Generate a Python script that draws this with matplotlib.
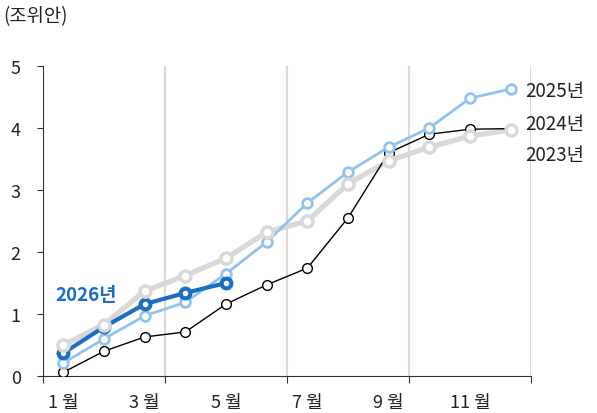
import matplotlib.pyplot as plt
import numpy as np

plt.rcParams['font.family'] = ['Noto Sans CJK KR', 'DejaVu Sans']

months = ['1 월', '2 월', '3 월', '4 월', '5 월', '6 월', '7 월', '8 월', '9 월', '10 월', '11 월', '12 월']
y2023 = [0.50, 0.83, 1.37, 1.62, 1.90, 2.32, 2.50, 3.10, 3.47, 3.69, 3.87, 3.97]
y2024 = [0.06, 0.40, 0.63, 0.71, 1.16, 1.47, 1.74, 2.55, 3.60, 3.90, 3.98, 3.99]
y2025 = [0.21, 0.60, 0.97, 1.19, 1.65, 2.16, 2.79, 3.29, 3.69, 4.00, 4.48, 4.63]
y2026 = [0.37, 0.79, 1.16, 1.34, 1.50]

fig = plt.figure(figsize=(5.97, 4.14), dpi=100)
ax = fig.add_axes([43 / 597, 1 - 377 / 414, 488 / 597, 310 / 414])

x = np.arange(12)
x26 = x[:len(y2026)]

for b in [2.5, 5.5, 8.5, 11.5]:
    ax.axvline(b, color='#d9d9d9', lw=1.5, zorder=0)

# lines first
ax.plot(x, y2023, color='#d9d9d9', lw=3.8, zorder=2)
ax.plot(x, y2024, color='black', lw=1.0, zorder=2)
ax.plot(x, y2025, color='#8fc4f2', lw=2.0, zorder=2)
ax.plot(x26, y2026, color='#1b6ec2', lw=3.0, zorder=2)

# then markers (grey ones on top)
ax.plot(x, y2024, ls='none', marker='o', ms=7, mfc='white', mec='black', mew=1.0, zorder=3)
ax.plot(x, y2025, ls='none', marker='o', ms=7, mfc='white', mec='#8fc4f2', mew=2.0, zorder=3)
ax.plot(x26, y2026, ls='none', marker='o', ms=7, mfc='white', mec='#1b6ec2', mew=3.0, zorder=3)
ax.plot(x, y2023, ls='none', marker='o', ms=8, mfc='white', mec='#d9d9d9', mew=2.5, zorder=3)

ax.text(11.35, 4.6, '2025년', fontsize=13.5, color='#222222', va='center', ha='left')
ax.text(11.35, 4.08, '2024년', fontsize=13.5, color='#222222', va='center', ha='left')
ax.text(11.35, 3.58, '2023년', fontsize=13.5, color='#222222', va='center', ha='left')
ax.text(0.56, 1.31, '2026년', fontsize=13.5, color='#1b6ec2', fontweight='bold', va='center', ha='center')

ax.set_xlim(-0.5, 11.5)
ax.set_ylim(0, 5)
ax.set_yticks([0, 1, 2, 3, 4, 5])
ax.set_xticks([-0.5, 2.5, 5.5, 8.5, 11.5])
ax.set_xticklabels([])
ax.set_xticks(x[::2], minor=True)
ax.set_xticklabels(months[::2], minor=True)
ax.tick_params(axis='x', which='major', length=5, color='#333333')
ax.tick_params(axis='x', which='minor', length=0, labelsize=13, pad=12, colors='#222222')
ax.tick_params(axis='y', length=4, color='#333333', labelsize=13, pad=12, labelcolor='#222222')

for s in ['top', 'right']:
    ax.spines[s].set_visible(False)
for s in ['left', 'bottom']:
    ax.spines[s].set_color('#333333')

fig.text(3 / 597, 1 - 17 / 414, '(조위안)', fontsize=13.5, color='#222222', va='center', ha='left')

fig.savefig('out.png', dpi=100)
